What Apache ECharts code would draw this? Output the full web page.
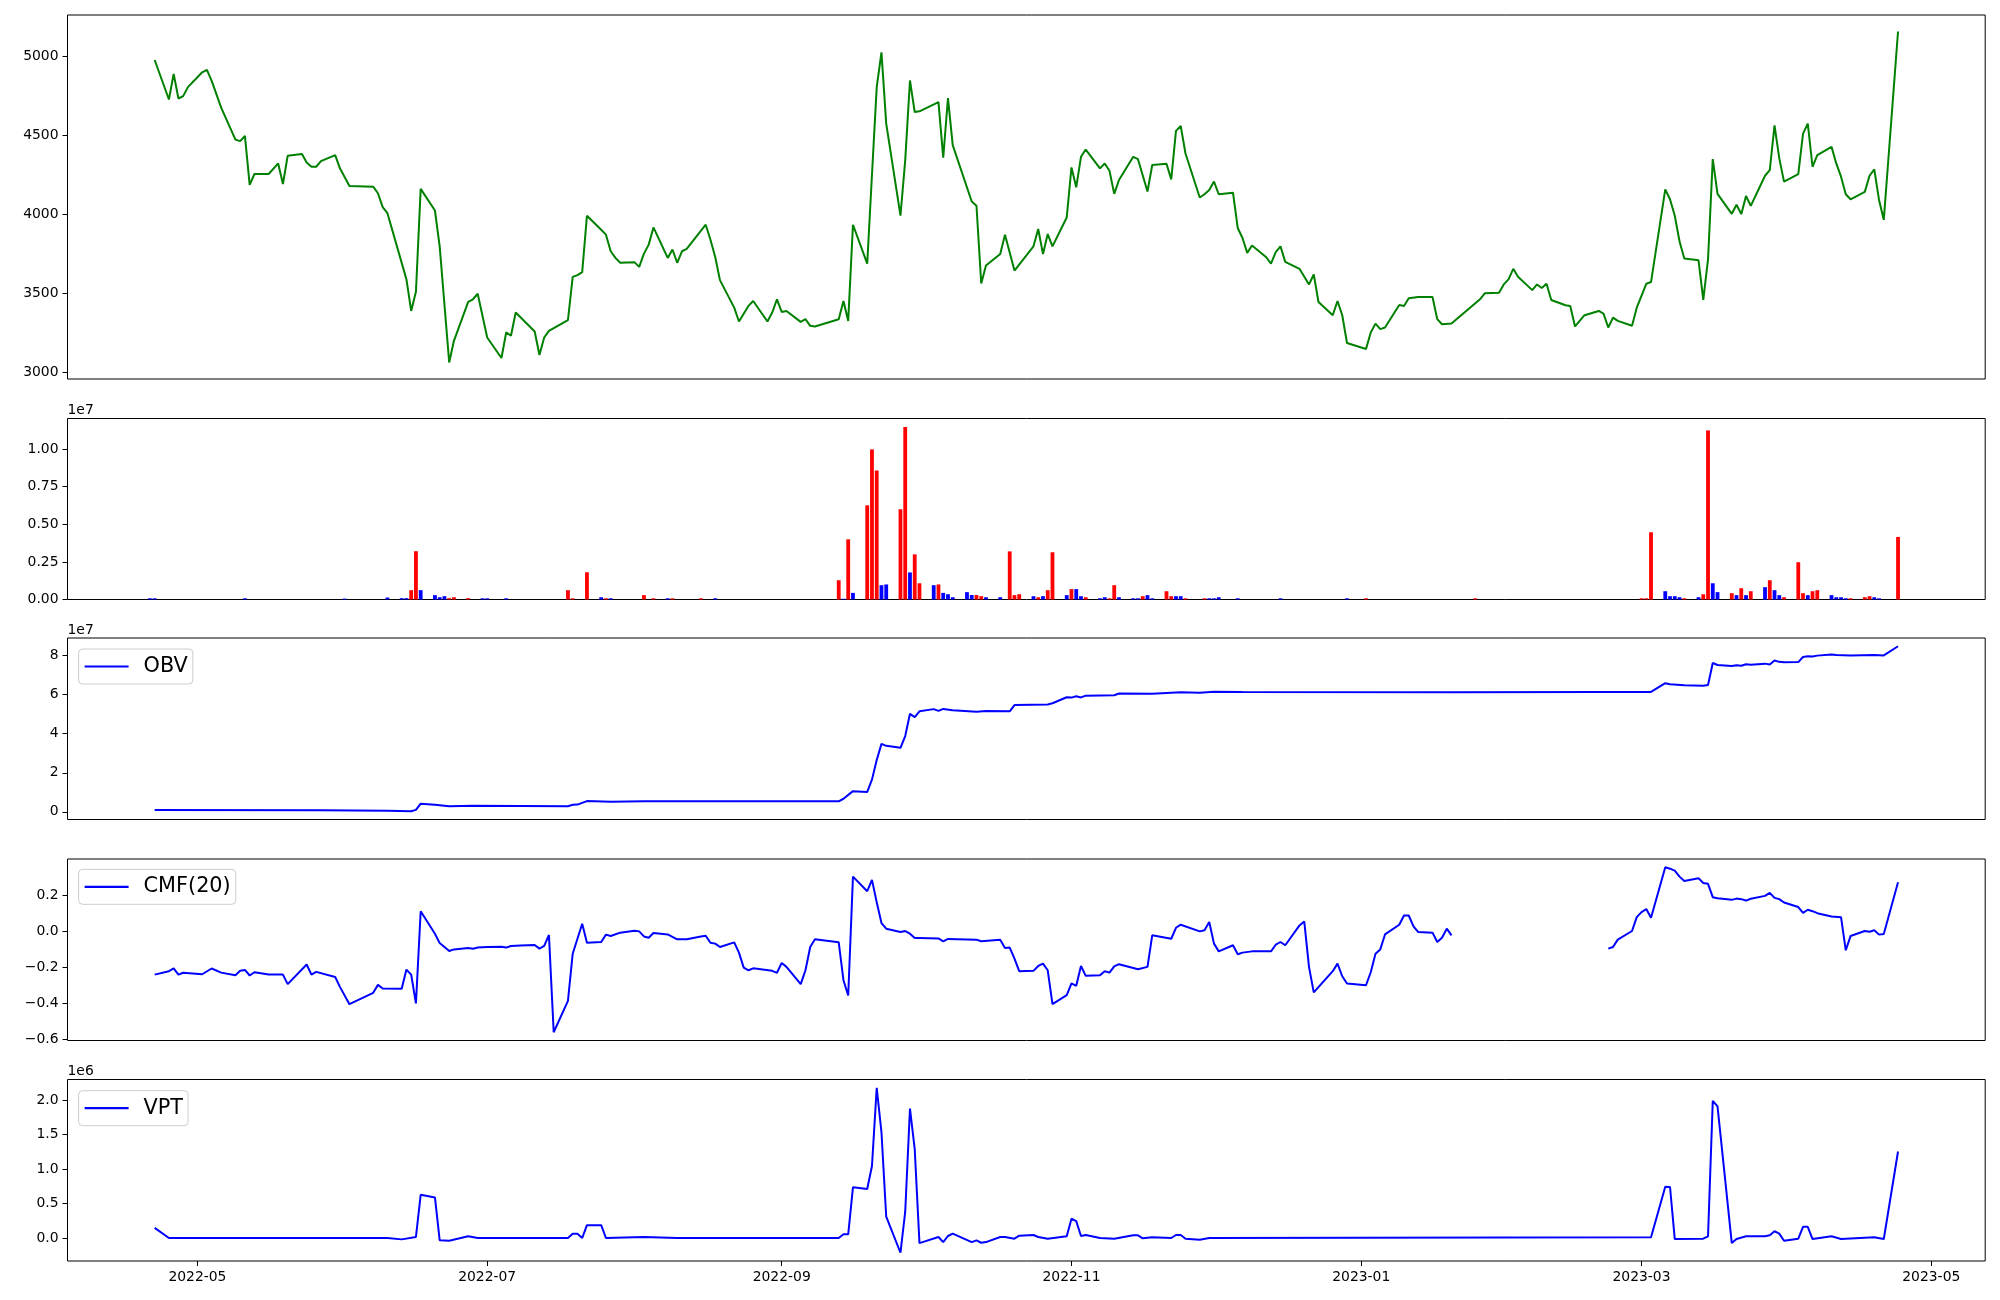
<!DOCTYPE html>
<html><head><meta charset="utf-8">
<script src="https://cdn.jsdelivr.net/npm/echarts@6/dist/echarts.min.js"></script>
<style>html,body{margin:0;padding:0;background:#fff}#c{width:2000px;height:1300px}</style>
</head><body><div id="c"></div>
<script>
const price = [["2022-04-22",4977],["2022-04-25",4727],["2022-04-26",4889],["2022-04-27",4733],["2022-04-28",4748],["2022-04-29",4805],["2022-05-02",4899],["2022-05-03",4914],["2022-05-04",4845],["2022-05-06",4675],["2022-05-09",4473],["2022-05-10",4463],["2022-05-11",4496],["2022-05-12",4186],["2022-05-13",4255],["2022-05-16",4255],["2022-05-18",4322],["2022-05-19",4192],["2022-05-20",4370],["2022-05-23",4381],["2022-05-24",4328],["2022-05-25",4301],["2022-05-26",4301],["2022-05-27",4337],["2022-05-30",4375],["2022-05-31",4291],["2022-06-02",4179],["2022-06-07",4175],["2022-06-08",4133],["2022-06-09",4045],["2022-06-10",4007],["2022-06-14",3588],["2022-06-15",3388],["2022-06-16",3510],["2022-06-17",4161],["2022-06-20",4024],["2022-06-21",3797],["2022-06-23",3062],["2022-06-24",3199],["2022-06-27",3445],["2022-06-28",3462],["2022-06-29",3497],["2022-07-01",3220],["2022-07-04",3090],["2022-07-05",3252],["2022-07-06",3231],["2022-07-07",3378],["2022-07-11",3258],["2022-07-12",3109],["2022-07-13",3220],["2022-07-14",3262],["2022-07-18",3330],["2022-07-19",3604],["2022-07-20",3615],["2022-07-21",3634],["2022-07-22",3991],["2022-07-25",3902],["2022-07-26",3871],["2022-07-27",3766],["2022-07-28",3724],["2022-07-29",3693],["2022-08-01",3697],["2022-08-02",3667],["2022-08-03",3751],["2022-08-04",3808],["2022-08-05",3917],["2022-08-08",3724],["2022-08-09",3777],["2022-08-10",3693],["2022-08-11",3766],["2022-08-12",3781],["2022-08-16",3934],["2022-08-17",3839],["2022-08-18",3730],["2022-08-19",3583],["2022-08-22",3409],["2022-08-23",3321],["2022-08-25",3420],["2022-08-26",3451],["2022-08-29",3321],["2022-08-30",3378],["2022-08-31",3462],["2022-09-01",3382],["2022-09-02",3388],["2022-09-05",3319],["2022-09-06",3336],["2022-09-07",3294],["2022-09-08",3290],["2022-09-13",3336],["2022-09-14",3451],["2022-09-15",3325],["2022-09-16",3934],["2022-09-19",3688],["2022-09-20",4250],["2022-09-21",4805],["2022-09-22",5025],["2022-09-23",4574],["2022-09-26",3991],["2022-09-27",4343],["2022-09-28",4847],["2022-09-29",4647],["2022-09-30",4652],["2022-10-04",4710],["2022-10-05",4358],["2022-10-06",4736],["2022-10-07",4438],["2022-10-11",4081],["2022-10-12",4054],["2022-10-13",3562],["2022-10-14",3676],["2022-10-17",3749],["2022-10-18",3871],["2022-10-20",3644],["2022-10-24",3797],["2022-10-25",3907],["2022-10-26",3749],["2022-10-27",3875],["2022-10-28",3797],["2022-10-31",3980],["2022-11-01",4297],["2022-11-02",4171],["2022-11-03",4364],["2022-11-04",4410],["2022-11-07",4291],["2022-11-08",4322],["2022-11-09",4276],["2022-11-10",4129],["2022-11-11",4217],["2022-11-14",4364],["2022-11-15",4349],["2022-11-17",4144],["2022-11-18",4312],["2022-11-21",4320],["2022-11-22",4221],["2022-11-23",4528],["2022-11-24",4559],["2022-11-25",4385],["2022-11-28",4106],["2022-11-29",4127],["2022-11-30",4154],["2022-12-01",4207],["2022-12-02",4127],["2022-12-05",4137],["2022-12-06",3913],["2022-12-07",3850],["2022-12-08",3756],["2022-12-09",3802],["2022-12-12",3728],["2022-12-13",3688],["2022-12-14",3760],["2022-12-15",3797],["2022-12-16",3699],["2022-12-19",3655],["2022-12-21",3556],["2022-12-22",3619],["2022-12-23",3445],["2022-12-26",3361],["2022-12-27",3451],["2022-12-28",3361],["2022-12-29",3185],["2023-01-02",3147],["2023-01-03",3252],["2023-01-04",3308],["2023-01-05",3273],["2023-01-06",3283],["2023-01-09",3426],["2023-01-10",3420],["2023-01-11",3468],["2023-01-13",3476],["2023-01-16",3476],["2023-01-17",3336],["2023-01-18",3304],["2023-01-20",3308],["2023-01-26",3462],["2023-01-27",3500],["2023-01-30",3504],["2023-01-31",3556],["2023-02-01",3588],["2023-02-02",3655],["2023-02-03",3604],["2023-02-06",3520],["2023-02-07",3556],["2023-02-08",3533],["2023-02-09",3560],["2023-02-10",3457],["2023-02-13",3424],["2023-02-14",3420],["2023-02-15",3290],["2023-02-17",3361],["2023-02-20",3388],["2023-02-21",3371],["2023-02-22",3283],["2023-02-23",3346],["2023-02-24",3325],["2023-02-27",3294],["2023-02-28",3409],["2023-03-02",3560],["2023-03-03",3571],["2023-03-06",4158],["2023-03-07",4095],["2023-03-08",3991],["2023-03-09",3829],["2023-03-10",3720],["2023-03-13",3709],["2023-03-14",3458],["2023-03-15",3714],["2023-03-16",4349],["2023-03-17",4129],["2023-03-20",4003],["2023-03-21",4060],["2023-03-22",4001],["2023-03-23",4116],["2023-03-24",4053],["2023-03-27",4244],["2023-03-28",4280],["2023-03-29",4563],["2023-03-30",4354],["2023-03-31",4207],["2023-04-03",4255],["2023-04-04",4511],["2023-04-05",4574],["2023-04-06",4301],["2023-04-07",4375],["2023-04-10",4427],["2023-04-11",4322],["2023-04-12",4238],["2023-04-13",4127],["2023-04-14",4095],["2023-04-17",4142],["2023-04-18",4244],["2023-04-19",4284],["2023-04-20",4091],["2023-04-21",3965],["2023-04-24",5157]];

// [date, volume, direction: 1 up (red), -1 down (blue)]
const volume = [["2022-04-21",80000,-1],["2022-04-22",80000,-1],["2022-05-11",80000,-1],["2022-06-01",60000,-1],["2022-06-10",130000,-1],["2022-06-13",90000,-1],["2022-06-14",90000,-1],["2022-06-15",620000,1],["2022-06-16",3210000,1],["2022-06-17",620000,-1],["2022-06-20",290000,-1],["2022-06-21",150000,-1],["2022-06-22",220000,-1],["2022-06-23",90000,1],["2022-06-24",150000,1],["2022-06-27",90000,1],["2022-06-30",80000,-1],["2022-07-01",80000,-1],["2022-07-05",80000,-1],["2022-07-18",620000,1],["2022-07-19",80000,1],["2022-07-22",1810000,1],["2022-07-25",150000,-1],["2022-07-26",80000,1],["2022-07-27",80000,-1],["2022-08-03",290000,1],["2022-08-05",80000,1],["2022-08-08",80000,-1],["2022-08-09",80000,1],["2022-08-15",80000,1],["2022-08-18",80000,-1],["2022-09-13",1280000,1],["2022-09-14",50000,-1],["2022-09-15",4000000,1],["2022-09-16",440000,-1],["2022-09-19",6260000,1],["2022-09-20",9980000,1],["2022-09-21",8580000,1],["2022-09-22",950000,-1],["2022-09-23",1000000,-1],["2022-09-26",6000000,1],["2022-09-27",11460000,1],["2022-09-28",1800000,-1],["2022-09-29",3000000,1],["2022-09-30",1080000,1],["2022-10-03",950000,-1],["2022-10-04",1000000,1],["2022-10-05",440000,-1],["2022-10-06",350000,-1],["2022-10-07",150000,-1],["2022-10-10",490000,-1],["2022-10-11",300000,-1],["2022-10-12",300000,1],["2022-10-13",220000,1],["2022-10-14",150000,-1],["2022-10-17",150000,-1],["2022-10-19",3200000,1],["2022-10-20",290000,1],["2022-10-21",350000,1],["2022-10-24",220000,-1],["2022-10-25",150000,1],["2022-10-26",220000,-1],["2022-10-27",620000,1],["2022-10-28",3140000,1],["2022-10-31",290000,-1],["2022-11-01",690000,1],["2022-11-02",690000,-1],["2022-11-03",220000,-1],["2022-11-04",150000,1],["2022-11-07",80000,-1],["2022-11-08",150000,-1],["2022-11-09",80000,1],["2022-11-10",950000,1],["2022-11-11",150000,-1],["2022-11-14",80000,-1],["2022-11-15",80000,-1],["2022-11-16",220000,1],["2022-11-17",290000,-1],["2022-11-18",80000,-1],["2022-11-21",550000,1],["2022-11-22",220000,1],["2022-11-23",220000,-1],["2022-11-24",220000,-1],["2022-11-25",80000,1],["2022-11-29",80000,1],["2022-11-30",80000,-1],["2022-12-01",80000,-1],["2022-12-02",150000,-1],["2022-12-06",80000,-1],["2022-12-15",80000,-1],["2022-12-29",80000,-1],["2023-01-02",80000,1],["2023-01-25",80000,1],["2023-03-01",80000,1],["2023-03-02",80000,1],["2023-03-03",4470000,1],["2023-03-06",550000,-1],["2023-03-07",220000,-1],["2023-03-08",220000,-1],["2023-03-09",150000,-1],["2023-03-10",80000,1],["2023-03-13",150000,-1],["2023-03-14",350000,1],["2023-03-15",11240000,1],["2023-03-16",1080000,-1],["2023-03-17",490000,-1],["2023-03-20",420000,1],["2023-03-21",290000,-1],["2023-03-22",750000,1],["2023-03-23",290000,-1],["2023-03-24",550000,1],["2023-03-27",820000,-1],["2023-03-28",1280000,1],["2023-03-29",620000,-1],["2023-03-30",290000,-1],["2023-03-31",150000,1],["2023-04-03",2480000,1],["2023-04-04",420000,1],["2023-04-05",290000,-1],["2023-04-06",550000,1],["2023-04-07",620000,1],["2023-04-10",290000,-1],["2023-04-11",150000,-1],["2023-04-12",150000,-1],["2023-04-13",80000,-1],["2023-04-14",80000,1],["2023-04-17",150000,1],["2023-04-18",220000,1],["2023-04-19",150000,-1],["2023-04-20",80000,-1],["2023-04-24",4160000,1]];

const obv = [["2022-04-22",1.0e6],["2022-05-27",0.8e6],["2022-06-10",0.6e6],["2022-06-15",0.3e6],["2022-06-16",1.0e6],["2022-06-17",4.2e6],["2022-06-20",3.6e6],["2022-06-23",2.9e6],["2022-06-28",3.1e6],["2022-07-18",2.9e6],["2022-07-19",3.6e6],["2022-07-20",3.7e6],["2022-07-22",5.5e6],["2022-07-27",5.2e6],["2022-08-03",5.4e6],["2022-09-13",5.4e6],["2022-09-14",6.7e6],["2022-09-16",10.6e6],["2022-09-19",10.2e6],["2022-09-20",16.5e6],["2022-09-21",26.5e6],["2022-09-22",34.8e6],["2022-09-23",33.8e6],["2022-09-26",32.8e6],["2022-09-27",38.8e6],["2022-09-28",50.2e6],["2022-09-29",48.5e6],["2022-09-30",51.5e6],["2022-10-03",52.6e6],["2022-10-04",51.7e6],["2022-10-05",52.7e6],["2022-10-07",52.0e6],["2022-10-12",51.2e6],["2022-10-14",51.6e6],["2022-10-19",51.5e6],["2022-10-20",54.7e6],["2022-10-27",55.0e6],["2022-10-28",55.6e6],["2022-10-31",58.7e6],["2022-11-01",58.5e6],["2022-11-02",59.2e6],["2022-11-03",58.6e6],["2022-11-04",59.5e6],["2022-11-10",59.7e6],["2022-11-11",60.6e6],["2022-11-18",60.5e6],["2022-11-22",61.0e6],["2022-11-24",61.2e6],["2022-11-28",61.0e6],["2022-12-01",61.5e6],["2022-12-07",61.4e6],["2023-01-20",61.2e6],["2023-02-20",61.4e6],["2023-03-03",61.4e6],["2023-03-06",65.9e6],["2023-03-07",65.3e6],["2023-03-10",64.8e6],["2023-03-14",64.6e6],["2023-03-15",65.0e6],["2023-03-16",76.2e6],["2023-03-17",75.2e6],["2023-03-20",74.7e6],["2023-03-21",75.1e6],["2023-03-22",74.8e6],["2023-03-23",75.6e6],["2023-03-24",75.3e6],["2023-03-27",75.9e6],["2023-03-28",75.5e6],["2023-03-29",77.5e6],["2023-03-30",76.8e6],["2023-03-31",76.6e6],["2023-04-03",76.7e6],["2023-04-04",79.3e6],["2023-04-05",79.7e6],["2023-04-06",79.5e6],["2023-04-07",80.0e6],["2023-04-10",80.6e6],["2023-04-11",80.3e6],["2023-04-14",80.0e6],["2023-04-19",80.3e6],["2023-04-21",80.1e6],["2023-04-24",84.8e6]];

// null marks the gap where CMF is undefined
const cmf = [["2022-04-22",-0.240],["2022-04-25",-0.221],["2022-04-26",-0.206],["2022-04-27",-0.240],["2022-04-28",-0.230],["2022-05-02",-0.238],["2022-05-04",-0.206],["2022-05-06",-0.229],["2022-05-09",-0.243],["2022-05-10",-0.219],["2022-05-11",-0.214],["2022-05-12",-0.245],["2022-05-13",-0.227],["2022-05-16",-0.240],["2022-05-19",-0.240],["2022-05-20",-0.293],["2022-05-24",-0.184],["2022-05-25",-0.240],["2022-05-26",-0.225],["2022-05-30",-0.253],["2022-05-31",-0.308],["2022-06-02",-0.404],["2022-06-07",-0.341],["2022-06-08",-0.297],["2022-06-09",-0.317],["2022-06-13",-0.319],["2022-06-14",-0.212],["2022-06-15",-0.240],["2022-06-16",-0.400],["2022-06-17",0.112],["2022-06-20",-0.013],["2022-06-21",-0.065],["2022-06-23",-0.109],["2022-06-24",-0.100],["2022-06-27",-0.092],["2022-06-28",-0.096],["2022-06-29",-0.090],["2022-07-01",-0.087],["2022-07-04",-0.085],["2022-07-05",-0.090],["2022-07-06",-0.081],["2022-07-08",-0.078],["2022-07-11",-0.076],["2022-07-12",-0.096],["2022-07-13",-0.081],["2022-07-14",-0.020],["2022-07-15",-0.560],["2022-07-18",-0.386],["2022-07-19",-0.124],["2022-07-21",0.042],["2022-07-22",-0.063],["2022-07-25",-0.059],["2022-07-26",-0.018],["2022-07-27",-0.026],["2022-07-29",-0.007],["2022-08-01",0.004],["2022-08-02",0.000],["2022-08-03",-0.028],["2022-08-04",-0.035],["2022-08-05",-0.009],["2022-08-08",-0.017],["2022-08-10",-0.044],["2022-08-12",-0.044],["2022-08-15",-0.028],["2022-08-16",-0.024],["2022-08-17",-0.063],["2022-08-18",-0.068],["2022-08-19",-0.087],["2022-08-22",-0.061],["2022-08-23",-0.118],["2022-08-24",-0.201],["2022-08-25",-0.216],["2022-08-26",-0.205],["2022-08-30",-0.219],["2022-08-31",-0.230],["2022-09-01",-0.175],["2022-09-02",-0.197],["2022-09-05",-0.293],["2022-09-06",-0.216],["2022-09-07",-0.087],["2022-09-08",-0.044],["2022-09-13",-0.061],["2022-09-14",-0.271],["2022-09-15",-0.356],["2022-09-16",0.304],["2022-09-19",0.223],["2022-09-20",0.286],["2022-09-21",0.162],["2022-09-22",0.046],["2022-09-23",0.015],["2022-09-26",-0.004],["2022-09-27",0.002],["2022-09-28",-0.013],["2022-09-29",-0.037],["2022-09-30",-0.037],["2022-10-04",-0.039],["2022-10-05",-0.055],["2022-10-06",-0.042],["2022-10-12",-0.046],["2022-10-13",-0.055],["2022-10-17",-0.046],["2022-10-18",-0.092],["2022-10-19",-0.090],["2022-10-20",-0.151],["2022-10-21",-0.221],["2022-10-24",-0.219],["2022-10-25",-0.192],["2022-10-26",-0.179],["2022-10-27",-0.216],["2022-10-28",-0.404],["2022-10-31",-0.354],["2022-11-01",-0.289],["2022-11-02",-0.302],["2022-11-03",-0.192],["2022-11-04",-0.247],["2022-11-07",-0.243],["2022-11-08",-0.221],["2022-11-09",-0.229],["2022-11-10",-0.194],["2022-11-11",-0.182],["2022-11-15",-0.210],["2022-11-17",-0.197],["2022-11-18",-0.022],["2022-11-22",-0.041],["2022-11-23",0.020],["2022-11-24",0.037],["2022-11-28",0.000],["2022-11-29",0.006],["2022-11-30",0.052],["2022-12-01",-0.068],["2022-12-02",-0.111],["2022-12-05",-0.077],["2022-12-06",-0.127],["2022-12-07",-0.118],["2022-12-09",-0.111],["2022-12-13",-0.111],["2022-12-14",-0.074],["2022-12-15",-0.059],["2022-12-16",-0.077],["2022-12-19",0.033],["2022-12-20",0.055],["2022-12-21",-0.197],["2022-12-22",-0.339],["2022-12-26",-0.221],["2022-12-27",-0.179],["2022-12-28",-0.249],["2022-12-29",-0.289],["2023-01-02",-0.299],["2023-01-03",-0.227],["2023-01-04",-0.124],["2023-01-05",-0.100],["2023-01-06",-0.017],["2023-01-09",0.037],["2023-01-10",0.088],["2023-01-11",0.088],["2023-01-12",0.028],["2023-01-13",-0.004],["2023-01-16",-0.007],["2023-01-17",-0.059],["2023-01-18",-0.035],["2023-01-19",0.015],["2023-01-20",-0.022],["2023-01-23",null],["2023-02-22",-0.096],["2023-02-23",-0.087],["2023-02-24",-0.046],["2023-02-27",0.002],["2023-02-28",0.079],["2023-03-01",0.107],["2023-03-02",0.124],["2023-03-03",0.076],["2023-03-06",0.356],["2023-03-07",0.348],["2023-03-08",0.337],["2023-03-09",0.304],["2023-03-10",0.280],["2023-03-13",0.295],["2023-03-14",0.269],["2023-03-15",0.264],["2023-03-16",0.190],["2023-03-17",0.184],["2023-03-20",0.175],["2023-03-21",0.182],["2023-03-22",0.179],["2023-03-23",0.171],["2023-03-24",0.181],["2023-03-27",0.197],["2023-03-28",0.214],["2023-03-29",0.186],["2023-03-30",0.179],["2023-03-31",0.160],["2023-04-03",0.135],["2023-04-04",0.103],["2023-04-05",0.120],["2023-04-06",0.112],["2023-04-07",0.101],["2023-04-10",0.083],["2023-04-12",0.079],["2023-04-13",-0.105],["2023-04-14",-0.026],["2023-04-17",0.002],["2023-04-18",-0.002],["2023-04-19",0.006],["2023-04-20",-0.018],["2023-04-21",-0.015],["2023-04-24",0.273]];

const vpt = [["2022-04-22",147000],["2022-04-25",0],["2022-06-10",0],["2022-06-13",-20000],["2022-06-16",15000],["2022-06-17",627000],["2022-06-20",588000],["2022-06-21",-34000],["2022-06-23",-40000],["2022-06-27",25000],["2022-06-29",0],["2022-07-18",0],["2022-07-19",60000],["2022-07-20",60000],["2022-07-21",0],["2022-07-22",186000],["2022-07-25",186000],["2022-07-26",0],["2022-08-03",15000],["2022-08-10",0],["2022-09-13",0],["2022-09-14",54000],["2022-09-15",54000],["2022-09-16",735000],["2022-09-19",711000],["2022-09-20",1044000],["2022-09-21",2180000],["2022-09-22",1534000],["2022-09-23",309000],["2022-09-26",-214000],["2022-09-27",382000],["2022-09-28",1877000],["2022-09-29",1289000],["2022-09-30",-74000],["2022-10-04",15000],["2022-10-05",-59000],["2022-10-06",29000],["2022-10-07",64000],["2022-10-11",-59000],["2022-10-12",-34000],["2022-10-13",-69000],["2022-10-14",-59000],["2022-10-17",15000],["2022-10-18",15000],["2022-10-20",-10000],["2022-10-21",34000],["2022-10-24",44000],["2022-10-25",15000],["2022-10-27",-10000],["2022-10-31",25000],["2022-11-01",279000],["2022-11-02",245000],["2022-11-03",29000],["2022-11-04",44000],["2022-11-07",0],["2022-11-10",-10000],["2022-11-14",39000],["2022-11-15",39000],["2022-11-16",-5000],["2022-11-18",10000],["2022-11-22",0],["2022-11-23",44000],["2022-11-24",44000],["2022-11-25",-10000],["2022-11-28",-25000],["2022-11-30",0],["2023-03-03",10000],["2023-03-06",745000],["2023-03-07",740000],["2023-03-08",-15000],["2023-03-14",-10000],["2023-03-15",25000],["2023-03-16",1990000],["2023-03-17",1910000],["2023-03-20",-74000],["2023-03-21",-15000],["2023-03-23",25000],["2023-03-27",25000],["2023-03-28",39000],["2023-03-29",98000],["2023-03-30",64000],["2023-03-31",-39000],["2023-04-03",-10000],["2023-04-04",162000],["2023-04-05",162000],["2023-04-06",-15000],["2023-04-10",25000],["2023-04-12",-15000],["2023-04-19",10000],["2023-04-21",-15000],["2023-04-24",1255000]];

const xTickLabels = ["2022-05","2022-07","2022-09","2022-11","2023-01","2023-03","2023-05"];
const priceTicks = [3000,3500,4000,4500,5000];
const volTicks = [0,2.5e6,5e6,7.5e6,1e7];
const obvTicks = [0,2e7,4e7,6e7,8e7];
const cmfTicks = [-0.6,-0.4,-0.2,0,0.2];
const vptTicks = [0,5e5,1e6,1.5e6,2e6];

function ts(s){const p=s.split('-').map(Number);return Date.UTC(p[0],p[1]-1,p[2]||1);}
function padRange(vals){const v=vals.filter(x=>x!=null);const lo=Math.min(...v),hi=Math.max(...v),r=hi-lo;return [lo-0.05*r,hi+0.05*r];}
const allDates=price.map(p=>ts(p[0]));
const x0=Math.min(...allDates), x1=Math.max(...allDates), xp=0.05*(x1-x0);
const FONT='DejaVu Sans';
const MINUS='\u2212';

const grids=[{top:15,height:364},{top:418.5,height:181},{top:638,height:181.5},{top:859,height:181.5},{top:1079.5,height:181.5}]
  .map(g=>Object.assign({left:67.5,right:14.8,show:true,borderColor:'#000',borderWidth:1,backgroundColor:'#fff'},g));

const xTickVals=xTickLabels.map(ts);
const xAxes=grids.map((g,i)=>{const last=i===4;return {type:'value',gridIndex:i,position:'bottom',min:x0-xp,max:x1+xp,scale:true,
  axisLine:{show:false,onZero:false},splitLine:{show:false},
  axisTick:{show:last,length:5,lineStyle:{color:'#000',width:1},customValues:xTickVals},
  axisLabel:{show:last,customValues:xTickVals,margin:9,fontSize:13.9,fontFamily:FONT,color:'#000',
    formatter:function(v){const d=new Date(v);return d.getUTCFullYear()+'-'+String(d.getUTCMonth()+1).padStart(2,'0');}}};});

function yAxis(i,range,ticks,fmt,name){return {type:'value',gridIndex:i,position:'left',min:range[0],max:range[1],scale:true,
  axisLine:{show:false,onZero:false},splitLine:{show:false},
  axisTick:{show:true,length:5,lineStyle:{color:'#000',width:1},customValues:ticks},
  axisLabel:{customValues:ticks,formatter:fmt,margin:9,fontSize:13.9,fontFamily:FONT,color:'#000'},
  name:name||'',nameLocation:'end',nameGap:1,nameTextStyle:{align:'left',verticalAlign:'bottom',fontSize:13.9,fontFamily:FONT,color:'#000'}};}
const fmtMinus=(s)=>s.replace('-',MINUS);
const volMax=Math.max(...volume.map(v=>v[1]));
const yAxes=[
  yAxis(0,padRange(price.map(p=>p[1])),priceTicks,v=>String(Math.round(v))),
  yAxis(1,[0,volMax*1.05],volTicks,v=>(v/1e7).toFixed(2),'1e7'),
  yAxis(2,padRange(obv.map(p=>p[1])),obvTicks,v=>String(Math.round(v/1e7)),'1e7'),
  yAxis(3,padRange(cmf.map(p=>p[1])),cmfTicks,v=>fmtMinus(v.toFixed(1))),
  yAxis(4,padRange(vpt.map(p=>p[1])),vptTicks,v=>fmtMinus((v/1e6).toFixed(1)),'1e6')
];

const lineBase={type:'line',symbol:'none',showSymbol:false,animation:false,connectNulls:false};
const series=[
  Object.assign({},lineBase,{name:'Price',xAxisIndex:0,yAxisIndex:0,data:price.map(p=>[ts(p[0]),p[1]]),lineStyle:{color:'#008000',width:2},itemStyle:{color:'#008000'}}),
  {type:'bar',name:'Volume',xAxisIndex:1,yAxisIndex:1,barWidth:3.8,animation:false,
    data:volume.map(v=>({value:[ts(v[0]),v[1]],itemStyle:{color:v[2]>0?'#ff0000':'#0000ff'}}))},
  Object.assign({},lineBase,{name:'OBV',xAxisIndex:2,yAxisIndex:2,data:obv.map(p=>[ts(p[0]),p[1]]),lineStyle:{color:'#0000ff',width:2},itemStyle:{color:'#0000ff'}}),
  Object.assign({},lineBase,{name:'CMF(20)',xAxisIndex:3,yAxisIndex:3,data:cmf.map(p=>[ts(p[0]),p[1]==null?'-':p[1]]),lineStyle:{color:'#0000ff',width:2},itemStyle:{color:'#0000ff'}}),
  Object.assign({},lineBase,{name:'VPT',xAxisIndex:4,yAxisIndex:4,data:vpt.map(p=>[ts(p[0]),p[1]]),lineStyle:{color:'#0000ff',width:2},itemStyle:{color:'#0000ff'}})
];

function legend(name,top){return {data:[{name:name,icon:'rect'}],left:78.6,top:top,orient:'horizontal',backgroundColor:'#fff',borderColor:'#cccccc',borderWidth:1,borderRadius:4,
  padding:[5.5,5,5.5,6],itemWidth:44,itemHeight:2.2,selectedMode:false,
  itemStyle:{color:'#0000ff',borderWidth:0},
  textStyle:{fontSize:20.8,fontFamily:FONT,color:'#000',lineHeight:24,padding:[0,0,0,10]}};}

const chart=echarts.init(document.getElementById('c'),null,{renderer:'canvas'});
chart.setOption({animation:false,backgroundColor:'#fff',grid:grids,xAxis:xAxes,yAxis:yAxes,series:series,
  legend:[legend('OBV',649),legend('CMF(20)',869.3),legend('VPT',1090.7)]});
</script></body></html>
